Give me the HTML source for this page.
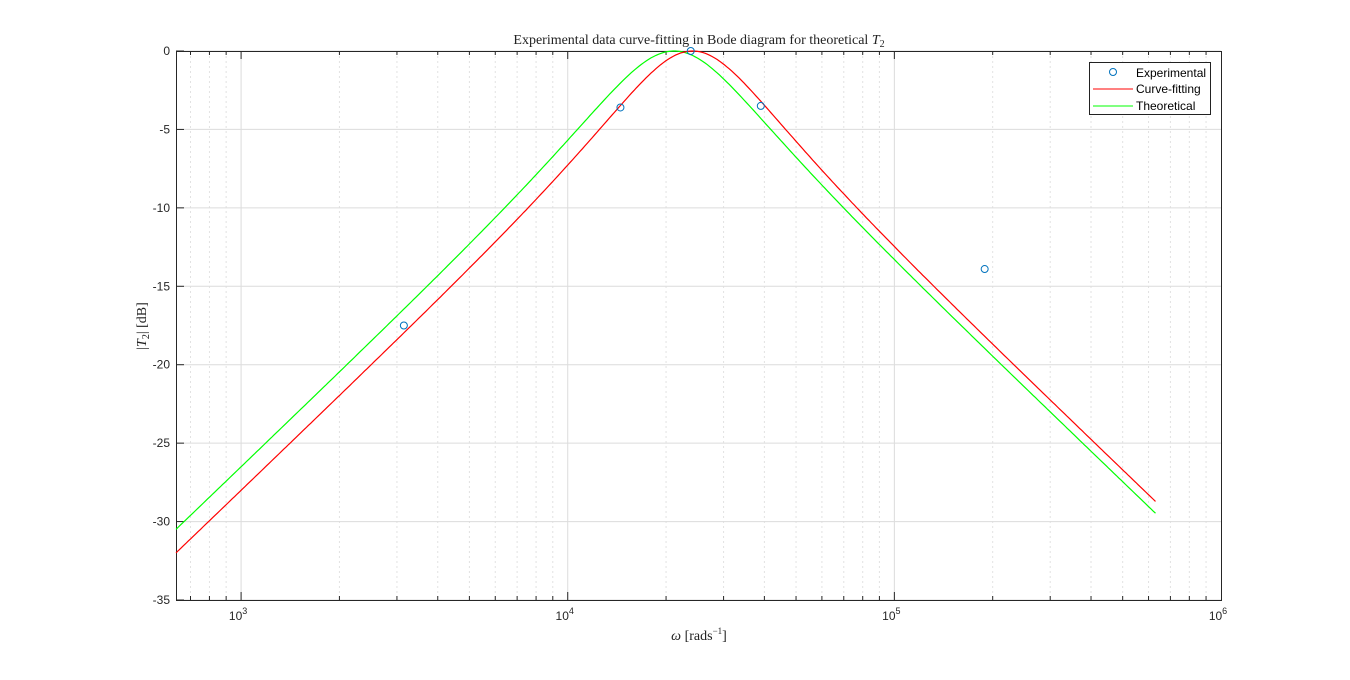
<!DOCTYPE html>
<html><head><meta charset="utf-8"><style>
body{margin:0;background:#fff;}
svg text{font-family:"Liberation Sans",sans-serif;}
.serif{font-family:"Liberation Serif",serif;}
</style></head><body>
<svg id="chart" width="1350" height="675" xmlns="http://www.w3.org/2000/svg">
<rect width="1350" height="675" fill="#fff"/>
<g id="grid"></g>
<g id="axes"></g>
<g id="series"></g>
<text class="serif" x="699" y="44" font-size="14" text-anchor="middle" fill="#222">Experimental data curve-fitting in Bode diagram for theoretical <tspan font-style="italic">T</tspan><tspan font-size="10" dy="3">2</tspan></text>
<text class="serif" x="699" y="640" font-size="14" text-anchor="middle" fill="#222"><tspan font-style="italic">ω</tspan> [rads<tspan font-size="9" dy="-6">−1</tspan><tspan dy="6">]</tspan></text>
<text class="serif" transform="translate(146,326) rotate(-90)" font-size="14" text-anchor="middle" fill="#222">|<tspan font-style="italic">T</tspan><tspan font-size="10" dy="3">2</tspan><tspan dy="-3">| [dB]</tspan></text>
<g>
<rect x="1089.5" y="62.5" width="121" height="52" fill="#fff" stroke="#222" stroke-width="1"/>
<circle cx="1113" cy="72" r="3.5" fill="none" stroke="#0072bd" stroke-width="1"/>
<text x="1136" y="77" font-size="12" fill="#000">Experimental</text>
<line x1="1093" y1="89" x2="1133" y2="89" stroke="#ff0000"/>
<text x="1136" y="93" font-size="12" fill="#000">Curve-fitting</text>
<line x1="1093" y1="106" x2="1133" y2="106" stroke="#00ff00"/>
<text x="1136" y="110" font-size="12" fill="#000">Theoretical</text>
</g>
</svg>
<script>
// Data
const expFreq = [3150, 14500, 23800, 39000, 189000];
const expDb = [-17.5, -3.6, 0, -3.5, -13.9];
const fitParams = [24100, 1.044];   // [center freq, Q] of curve-fitting
const theoParams = [21170, 1.0];  // [center freq, Q] of theoretical
const curveRange = [632, 630000];
const yTicks = [0, -5, -10, -15, -20, -25, -30, -35];
const xDecades = [3, 4, 5, 6];

const L=176, R=1221, T=51, B=600;
const xMin=Math.log10(632), xMax=6, yMin=-35, yMax=0;
const xs = w => L + (Math.log10(w)-xMin)/(xMax-xMin)*(R-L);
const ys = d => T + (yMax-d)/(yMax-yMin)*(B-T);
const NS="http://www.w3.org/2000/svg";
function mk(parent,tag,attrs){const e=document.createElementNS(NS,tag);for(const k in attrs)e.setAttribute(k,attrs[k]);document.getElementById(parent).appendChild(e);return e;}

mk('grid','rect',{x:L,y:T,width:R-L,height:B-T,fill:'#fff'});
for(let d=2;d<=5;d++){for(let m=1;m<10;m++){const w=m*Math.pow(10,d);if(Math.log10(w)<xMin||Math.log10(w)>xMax)continue;
 const x=xs(w);
 if(m===1){const g=mk('grid','line',{x1:x,x2:x,y1:T,y2:B,stroke:'#dcdcdc','stroke-width':1});}
 else{const g=mk('grid','line',{x1:x,x2:x,y1:T,y2:B,stroke:'#e2e2e2','stroke-dasharray':'2,3'});}
 const t=mk('axes','line',{x1:x,x2:x,y1:B,y2:B-(m===1?8:4),stroke:'#262626'});
 const t2=mk('axes','line',{x1:x,x2:x,y1:T,y2:T+(m===1?8:4),stroke:'#262626'});
}}
yTicks.forEach(v=>{const y=ys(v);
 const g=mk('grid','line',{x1:L,x2:R,y1:y,y2:y,stroke:'#dcdcdc'});
 const t=mk('axes','line',{x1:L,x2:L+8,y1:y,y2:y,stroke:'#262626'});
 const lb=mk('axes','text',{x:L-6,y:y+4,'font-size':12,'text-anchor':'end',fill:'#262626'});lb.textContent=v;
 
});
xDecades.forEach(d=>{const x=xs(Math.pow(10,d));
 const lb=mk('axes','text',{x:x-3,y:B+20,'font-size':12,'text-anchor':'middle',fill:'#262626'});
 
 lb.innerHTML='10<tspan font-size="9" dy="-6">'+d+'</tspan>';
});
const box=mk('axes','rect',{x:L+0.5,y:T+0.5,width:R-L,height:B-T,fill:'none',stroke:'#262626'});


function curve(p){const pts=[];const a=Math.log10(curveRange[0]),b=Math.log10(curveRange[1]);
 for(let i=0;i<=400;i++){const w=Math.pow(10,a+(b-a)*i/400);const r=w/p[0]-p[0]/w;
 const db=-10*Math.log10(1+p[1]*p[1]*r*r);pts.push(xs(w).toFixed(1)+','+ys(db).toFixed(1));}
 return pts.join(' ');}
const gl=mk('series','polyline',{points:curve(theoParams),fill:'none',stroke:'#00ff00','stroke-width':1.2});

const rl=mk('series','polyline',{points:curve(fitParams),fill:'none',stroke:'#ff0000','stroke-width':1.2});

expFreq.forEach((w,i)=>{const c=mk('series','circle',{cx:xs(w),cy:ys(expDb[i]),r:3.5,fill:'none',stroke:'#0072bd'});
 });
</script>
</body></html>
